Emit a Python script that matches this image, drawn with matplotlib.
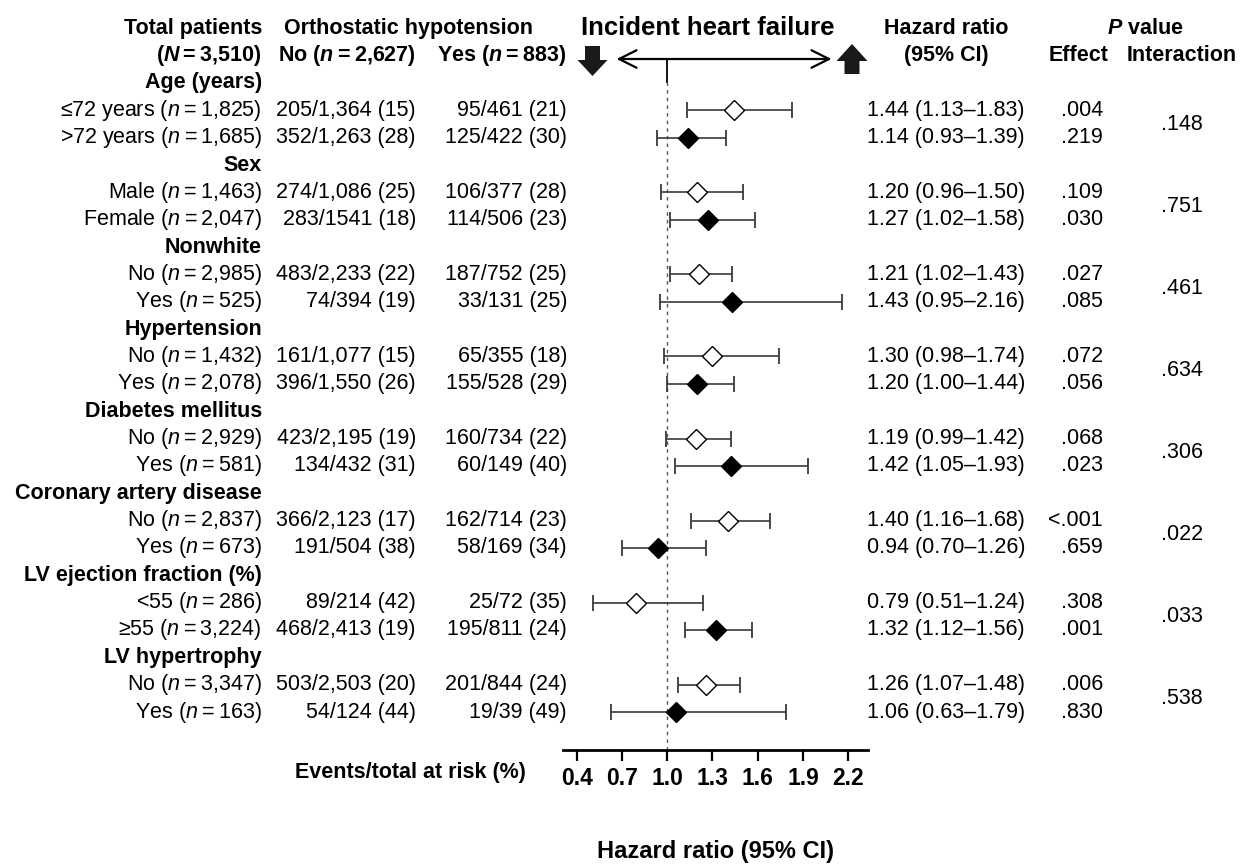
import matplotlib
matplotlib.use("Agg")
import matplotlib.pyplot as plt
from matplotlib import transforms
from matplotlib.patches import Polygon

plt.rcParams['font.family'] = ['Liberation Sans', 'DejaVu Sans']
plt.rcParams['mathtext.fontset'] = 'custom'
plt.rcParams['mathtext.rm'] = 'Liberation Sans'
plt.rcParams['mathtext.it'] = 'Liberation Sans:italic'
plt.rcParams['mathtext.bf'] = 'Liberation Sans:bold'
plt.rcParams['mathtext.bfit'] = 'Liberation Sans:italic:bold'

# data
groups = ["Age (years)", "Sex", "Nonwhite", "Hypertension", "Diabetes mellitus",
          "Coronary artery disease", "LV ejection fraction (%)", "LV hypertrophy"]
sub_labels = ["≤72 years", ">72 years", "Male", "Female", "No", "Yes", "No", "Yes",
              "No", "Yes", "No", "Yes", "<55", "≥55", "No", "Yes"]
sub_n = ["1,825", "1,685", "1,463", "2,047", "2,985", "525", "1,432", "2,078",
         "2,929", "581", "2,837", "673", "286", "3,224", "3,347", "163"]
no_events = ["205/1,364 (15)", "352/1,263 (28)", "274/1,086 (25)", "283/1541 (18)",
             "483/2,233 (22)", "74/394 (19)", "161/1,077 (15)", "396/1,550 (26)",
             "423/2,195 (19)", "134/432 (31)", "366/2,123 (17)", "191/504 (38)",
             "89/214 (42)", "468/2,413 (19)", "503/2,503 (20)", "54/124 (44)"]
yes_events = ["95/461 (21)", "125/422 (30)", "106/377 (28)", "114/506 (23)",
              "187/752 (25)", "33/131 (25)", "65/355 (18)", "155/528 (29)",
              "160/734 (22)", "60/149 (40)", "162/714 (23)", "58/169 (34)",
              "25/72 (35)", "195/811 (24)", "201/844 (24)", "19/39 (49)"]
hr = [1.44, 1.14, 1.20, 1.27, 1.21, 1.43, 1.30, 1.20, 1.19, 1.42, 1.40, 0.94, 0.79, 1.32, 1.26, 1.06]
lo = [1.13, 0.93, 0.96, 1.02, 1.02, 0.95, 0.98, 1.00, 0.99, 1.05, 1.16, 0.70, 0.51, 1.12, 1.07, 0.63]
hi = [1.83, 1.39, 1.50, 1.58, 1.43, 2.16, 1.74, 1.44, 1.42, 1.93, 1.68, 1.26, 1.24, 1.56, 1.48, 1.79]
p_effect = [".004", ".219", ".109", ".030", ".027", ".085", ".072", ".056",
            ".068", ".023", "<.001", ".659", ".308", ".001", ".006", ".830"]
p_inter = [".148", ".751", ".461", ".634", ".306", ".022", ".033", ".538"]
xticks = [0.4, 0.7, 1.0, 1.3, 1.6, 1.9, 2.2]

W, H = 1242, 866
fig = plt.figure(figsize=(W / 100, H / 100), dpi=100)
ax = fig.add_axes([563.3 / W, 1 - 750 / H, (867.7 - 563.3) / W, (750 - 20) / H])
ax.set_xlim(0.311, 2.329)
ax.set_ylim(24.388, -2.303)
for s in ['top', 'left', 'right']:
    ax.spines[s].set_visible(False)
ax.spines['bottom'].set_linewidth(2.0)
ax.set_yticks([])
ax.set_xticks(xticks)
ax.set_xticklabels([f"{t:.1f}" for t in xticks], fontsize=16.5, fontweight='bold')
ax.tick_params(axis='x', length=8, width=1.6, pad=4)
ax.set_xlabel("Hazard ratio (95% CI)", fontsize=17, fontweight='bold', labelpad=36)

tr = transforms.blended_transform_factory(fig.transFigure, ax.transData)
FS = 15.5


def put(xpx, row, s, ha='left', bold=False, size=FS):
    fig.text(xpx / W, row, s, transform=tr, ha=ha, va='center', fontsize=size,
             fontweight='bold' if bold else 'normal')


# header
put(262, -2, "Total patients", 'right', True)
put(262, -1, "($\\mathbfit{N}$\u2009=\u20093,510)", 'right', True)
put(408, -2, "Orthostatic hypotension", 'center', True)
put(416, -1, "No ($\\mathbfit{n}$\u2009=\u20092,627)", 'right', True)
put(567, -1, "Yes ($\\mathbfit{n}$\u2009=\u2009883)", 'right', True)
put(708, -2, "Incident heart failure", 'center', True, 18.5)
put(946, -2, "Hazard ratio", 'center', True)
put(946, -1, "(95% CI)", 'center', True)
put(1145, -2, "$\\mathbfit{P}$ value", 'center', True)
put(1079, -1, "Effect", 'center', True)
put(1182, -1, "Interaction", 'center', True)
put(410, 25.2, "Events/total at risk (%)", 'center', True)

# reference line at HR = 1
ax.plot([1.0, 1.0], [-0.877, -0.05], color='black', lw=1.3, zorder=1)
ax.plot([1.0, 1.0], [-0.05, 24.388], color='#555555', lw=1.0,
        linestyle=(0, (2.5, 3)), zorder=1)
ax.annotate('', xy=(0.664, -0.877), xytext=(2.089, -0.877),
            arrowprops=dict(arrowstyle='<->,head_length=0.7,head_width=0.35',
                            lw=1.6, color='black', mutation_scale=18,
                            shrinkA=0, shrinkB=0))


def block_arrow(cx, y_flat, y_neck, y_tip, shaft, head):
    pts = [(cx - shaft, y_flat), (cx + shaft, y_flat), (cx + shaft, y_neck),
           (cx + head, y_neck), (cx, y_tip), (cx - head, y_neck), (cx - shaft, y_neck)]
    pts = [(x / W, 1 - y / H) for x, y in pts]
    fig.patches.append(Polygon(pts, closed=True, transform=fig.transFigure,
                               facecolor='#1a1a1a', edgecolor='none'))


block_arrow(592.5, 46, 60, 76, 7.5, 15)
block_arrow(852, 74, 61, 44, 7.5, 15.5)

# rows
for g, name in enumerate(groups):
    put(262, 3 * g, name, 'right', True)
    put(1182, 3 * g + 1.5, p_inter[g], 'center')

for k in range(len(hr)):
    row = 3 * (k // 2) + 1 + (k % 2)
    put(262, row, f"{sub_labels[k]} ($n$\u2009=\u2009{sub_n[k]})", 'right')
    put(416, row, no_events[k], 'right')
    put(567, row, yes_events[k], 'right')
    put(867, row, f"{hr[k]:.2f} ({lo[k]:.2f}\u2013{hi[k]:.2f})", 'left')
    put(1103, row, p_effect[k], 'right')
    ax.errorbar(hr[k], row, xerr=[[hr[k] - lo[k]], [hi[k] - hr[k]]], fmt='none',
                ecolor='#3a3a3a', elinewidth=1.2, capsize=6, capthick=1.3, zorder=2)
    face = 'white' if k % 2 == 0 else 'black'
    ax.plot(hr[k], row, marker='D', markersize=10, markerfacecolor=face,
            markeredgecolor='black', markeredgewidth=1.0, zorder=3, linestyle='none')

fig.savefig("out.png", dpi=100)
